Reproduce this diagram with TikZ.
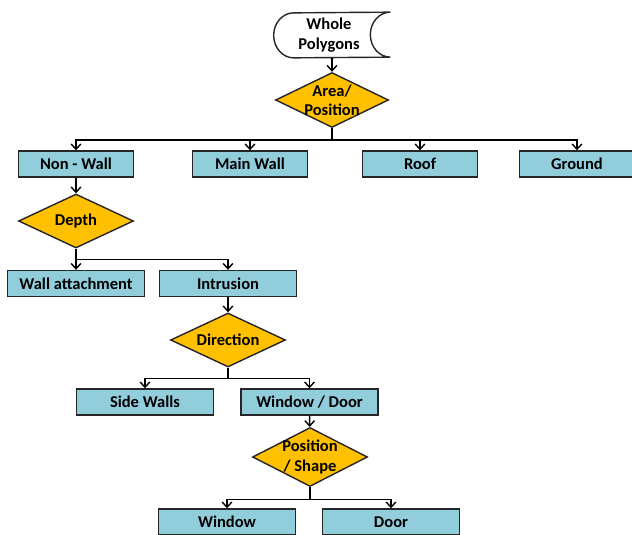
\documentclass[tikz,border=0pt]{standalone}
\usepackage{fontspec}
\setmainfont{Carlito}
\usepackage{tikz}
\usetikzlibrary{positioning,shapes.geometric,arrows.meta}
\definecolor{boxblue}{RGB}{146,205,220}
\definecolor{decgold}{RGB}{255,192,0}
\definecolor{edgegray}{RGB}{38,38,38}

\begin{document}
\begin{tikzpicture}[x=0.02cm, y=-0.02cm,
    every node/.style={font=\fontsize{9.4}{11}\selectfont\bfseries},
    store/.style={rectangle, minimum width=2.32cm, minimum height=0.9cm, align=center},
    proc/.style={rectangle, draw=edgegray, fill=boxblue, thick, minimum width=2.3cm, minimum height=0.52cm, inner sep=1pt},
    wideproc/.style={proc, minimum width=2.74cm},
    dec/.style={diamond, draw=edgegray, fill=decgold, thick, minimum width=2.3cm, minimum height=1.08cm, inner sep=0pt, aspect=2.1, align=center},
    declabel/.style={label={[align=center]center:#1}},
    arrow/.style={->, thick, >={Straight Barb[length=3pt,width=5.5pt]}}
]
\useasboundingbox (0,0) rectangle (632,534);

% Start (stored data)
\node[store]  at (332,35)    (whole)    {};
\draw[edgegray, thick, fill=white] (whole.north east)
    arc[start angle=90, end angle=270, x radius=0.4cm, y radius=0.45cm]
    -- ([xshift=0.4cm]whole.south west)
    arc[start angle=270, end angle=90, x radius=0.4cm, y radius=0.45cm]
    -- cycle;
\node[align=center] at (329,35) {Whole\\Polygons};

% Main flow
\node[dec, minimum width=2.26cm, minimum height=1.1cm, declabel={Area/\\Position}] at (332,100) (area) {};
\node[proc]     at (76,164)    (nonwall)  {Non - Wall};
\node[proc]     at (250,164)   (mainwall) {Main Wall};
\node[proc]     at (420,164)   (roof)     {Roof};
\node[proc]     at (577,164)   (ground)   {Ground};
\node[dec]      at (76,221)    (depth)    {Depth};
\node[wideproc] at (76,283.5)  (wallatt)  {Wall attachment};
\node[wideproc] at (228,283.5) (intrusion){Intrusion};
\node[dec]      at (228,340)   (direction){Direction};
\node[wideproc] at (145,402)   (sidewalls){Side Walls};
\node[wideproc] at (309.5,402) (windoor)  {Window / Door};
\node[dec, minimum height=1.18cm, declabel={Position\\/ Shape}] at (310,457) (posshape) {};
\node[wideproc] at (227,522)   (window)   {Window};
\node[wideproc] at (391,522)   (door)     {Door};

\draw[arrow] (whole) -- (area);
\foreach \b in {nonwall,mainwall,roof,ground}
  \draw[arrow] (area.south) -- ++(0,12) -| (\b.north);
\draw[arrow] (nonwall) -- (depth);
\foreach \b in {wallatt,intrusion}
  \draw[arrow] (depth.south) -- ++(0,11) -| (\b.north);
\draw[arrow] (intrusion) -- (direction);
\foreach \b in {sidewalls,windoor}
  \draw[arrow] (direction.south) -- ++(0,11) -| (\b.north);
\draw[arrow] (windoor) -- (posshape);
\foreach \b in {window,door}
  \draw[arrow] (posshape.south) -- ++(0,12) -| (\b.north);
\end{tikzpicture}
\end{document}
